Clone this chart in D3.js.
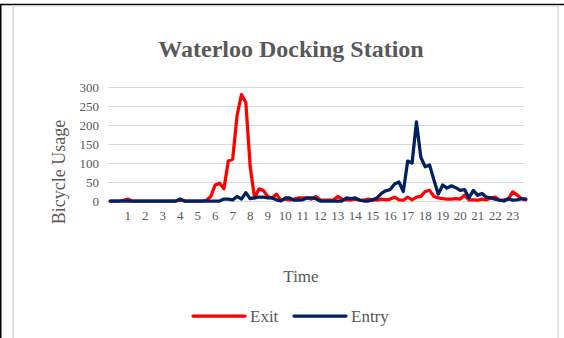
<!DOCTYPE html>
<html>
<head>
<meta charset="utf-8">
<script src="https://cdn.jsdelivr.net/npm/d3@7"></script>
<style>
  html, body { margin: 0; padding: 0; background: #fff; }
  svg { display: block; }
</style>
</head>
<body>
<svg id="chart" width="564" height="338"></svg>
<script>
// Quarter-hour slots across the day (0:00 .. 23:45)
const slots = d3.range(96);
const hourTicks = d3.range(1, 24);

// Bikes leaving the station, per 15-minute slot
const exitCounts = [
  0, 0, 0, 2, 5, 0, 0, 0, 0, 0, 0, 0, 0, 0, 0, 0,
  2, 0, 0, 0, 0, 0, 2, 12, 42, 47, 32, 105, 110, 225, 280, 260,
  90, 8, 32, 28, 12, 8, 18, 2, 5, 3, 5, 8, 8, 8, 5, 12,
  3, 2, 2, 2, 12, 5, 3, 3, 5, 3, 2, 5, 3, 2, 5, 3,
  5, 10, 3, 2, 10, 3, 10, 12, 25, 28, 12, 8, 6, 5, 5, 6,
  5, 15, 3, 3, 2, 5, 3, 8, 10, 2, 3, 5, 24, 16, 6, 3
];

// Bikes docked at the station, per 15-minute slot
const entryCounts = [
  0, 0, 0, 0, 0, 0, 0, 0, 0, 0, 0, 0, 0, 0, 0, 0,
  5, 0, 0, 0, 0, 0, 0, 0, 0, 0, 5, 5, 3, 12, 5, 22,
  6, 8, 10, 10, 8, 8, 3, 0, 8, 8, 2, 2, 3, 8, 8, 6,
  0, 0, 0, 0, 0, 0, 8, 6, 8, 2, 0, 0, 3, 8, 20, 27,
  30, 45, 50, 25, 105, 100, 208, 115, 90, 95, 55, 18, 42, 34, 40, 35,
  28, 30, 8, 28, 15, 20, 10, 8, 5, 2, 0, 6, 2, 3, 6, 5
];

const yTicks = [0, 50, 100, 150, 200, 250, 300];

const seriesNames = ["Exit", "Entry"];
const seriesColors = ["#ff0000", "#002060"];

const svg = d3.select("#chart");
const textGray = "#595959";
const serif = "'Liberation Serif', 'Times New Roman', serif";

// page frame lines
svg.append("line").attr("x1", 0).attr("x2", 564).attr("y1", 4.5).attr("y2", 4.5)
  .attr("stroke", "#000").attr("stroke-width", 1.5);
svg.append("line").attr("x1", 0.75).attr("x2", 0.75).attr("y1", 4).attr("y2", 338)
  .attr("stroke", "#000").attr("stroke-width", 1.5);

// chart area border
svg.append("rect").attr("x", 13).attr("y", 6).attr("width", 545).attr("height", 345)
  .attr("fill", "#fff").attr("stroke", "#d9d9d9").attr("stroke-width", 1.5);

const plot = { left: 108, right: 528, top: 87, bottom: 201 };

const x = d3.scaleBand().domain(slots).range([plot.left, plot.right]);
const xc = i => x(i) + x.bandwidth() / 2;
const y = d3.scaleLinear().domain([0, 300]).range([plot.bottom, plot.top]);

// title
svg.append("text")
  .attr("x", 291).attr("y", 57)
  .attr("text-anchor", "middle")
  .attr("font-family", serif).attr("font-weight", "bold")
  .attr("font-size", 24).attr("fill", textGray)
  .text("Waterloo Docking Station");

// horizontal gridlines
const yAxis = d3.axisLeft(y).tickValues(yTicks).tickSize(-(plot.right - 4 - plot.left)).tickPadding(9);
const gy = svg.append("g").attr("transform", `translate(${plot.left},0)`).call(yAxis);
gy.select(".domain").remove();
gy.selectAll(".tick line").attr("stroke", "#d9d9d9").attr("stroke-width", 1);
gy.selectAll(".tick text")
  .attr("font-family", serif).attr("font-size", 13).attr("fill", textGray);

// hour labels under the axis
const xAxis = d3.axisBottom(x).tickValues(hourTicks.map(h => h * 4))
  .tickFormat(i => String(i / 4)).tickSize(0).tickPadding(10);
const gx = svg.append("g").attr("transform", `translate(0,${plot.bottom})`).call(xAxis);
gx.select(".domain").remove();
gx.selectAll(".tick text")
  .attr("font-family", serif).attr("font-size", 13).attr("fill", textGray);

// axis titles
svg.append("text")
  .attr("transform", `translate(65,172) rotate(-90)`)
  .attr("text-anchor", "middle")
  .attr("font-family", serif).attr("font-size", 18).attr("fill", textGray)
  .text("Bicycle Usage");

svg.append("text")
  .attr("x", 301).attr("y", 282)
  .attr("text-anchor", "middle")
  .attr("font-family", serif).attr("font-size", 17).attr("fill", textGray)
  .text("Time");

// series lines
const line = d3.line().x((d, i) => xc(i)).y(d => y(d));
[exitCounts, entryCounts].forEach((vals, k) => {
  svg.append("path")
    .datum(vals)
    .attr("d", line)
    .attr("fill", "none")
    .attr("stroke", seriesColors[k])
    .attr("stroke-width", 3.25)
    .attr("stroke-linejoin", "round")
    .attr("stroke-linecap", "round");
});

// legend
const legendX = [193, 294];
seriesNames.forEach((name, k) => {
  const g = svg.append("g").attr("transform", `translate(${legendX[k]},316)`);
  g.append("line").attr("x1", 0).attr("x2", 52).attr("y1", 0).attr("y2", 0)
    .attr("stroke", seriesColors[k]).attr("stroke-width", 3.25).attr("stroke-linecap", "round");
  g.append("text").attr("x", 57).attr("y", 6)
    .attr("font-family", serif).attr("font-size", 17).attr("fill", textGray)
    .text(name);
});
</script>
</body>
</html>
